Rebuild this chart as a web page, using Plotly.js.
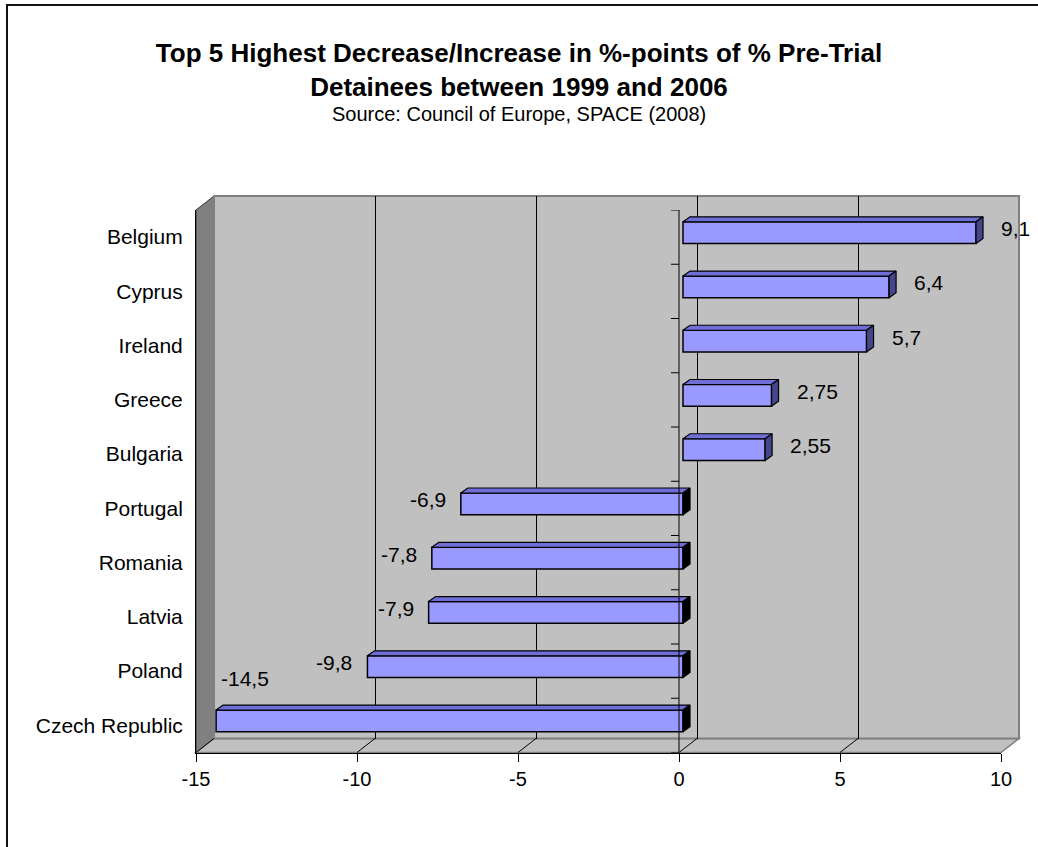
<!DOCTYPE html>
<html><head><meta charset="utf-8">
<script src="https://cdn.plot.ly/plotly-3.0.1.min.js"></script>
<style>html,body{margin:0;padding:0;background:#fff}#chart{width:1038px;height:847px}</style>
</head><body><div id="chart"></div>
<script>
// ---- data ----
const categories = ['Belgium','Cyprus','Ireland','Greece','Bulgaria','Portugal','Romania','Latvia','Poland','Czech Republic'];
const values = [9.1, 6.4, 5.7, 2.75, 2.55, -6.9, -7.8, -7.9, -9.8, -14.5];
const xTickVals = [-15, -10, -5, 0, 5, 10];
const xTickText = ['-15', '-10', '-5', '0', '5', '10'];
const titleLines = ['Top 5 Highest Decrease/Increase in %-points of % Pre-Trial', 'Detainees between 1999 and 2006'];
const subtitle = 'Source: Council of Europe, SPACE (2008)';

// ---- geometry (pixels) ----
const W = 1038, H = 847;
const fx = p => p / W, fy = p => 1 - p / H;
const FRONT = {l: 196, r: 1001, t: 210, b: 752.5};
const DEPTH = {x: 18, y: 14};
const BAR_SHIFT = {x: 4, y: 4.5};
const BAR_DEPTH = {x: 7, y: 5};
const xRange = [xTickVals[0], xTickVals[xTickVals.length - 1]];
const n = categories.length;
const yRange = [-0.5, n - 0.5];
const yPos = categories.map((c, i) => n - 1 - i);
const boundaries = Array.from({length: n + 1}, (_, k) => k - 0.5);
const unitX = (FRONT.r - FRONT.l) / (xRange[1] - xRange[0]);
const unitY = (FRONT.b - FRONT.t) / (yRange[1] - yRange[0]);
const dX = BAR_DEPTH.x / unitX, dY = BAR_DEPTH.y / unitY;
const halfW = 0.2;
const FONT = '"Liberation Sans", Arial, sans-serif';
const fmt = v => String(v).replace('.', ',');

// 3D faces of the bars
const topF = {x: [], y: []}, endPos = {x: [], y: []}, endNeg = {x: [], y: []};
values.forEach((v, i) => {
  const c = yPos[i], a = Math.min(0, v), b = Math.max(0, v);
  topF.x.push(a, b, b + dX, a + dX, a, null);
  topF.y.push(c + halfW, c + halfW, c + halfW + dY, c + halfW + dY, c + halfW, null);
  const e = v >= 0 ? endPos : endNeg;
  e.x.push(b, b, b + dX, b + dX, b, null);
  e.y.push(c - halfW, c + halfW, c + halfW + dY, c - halfW + dY, c - halfW, null);
});

const common = {hoverinfo: 'skip', showlegend: false};
const traces = [
  Object.assign({type: 'scatter', x: [], y: [], xaxis: 'x', yaxis: 'y'}, common),
  Object.assign({type: 'scatter', x: [], y: [], xaxis: 'x2', yaxis: 'y2'}, common),
  {type: 'bar', orientation: 'h', x: values, y: yPos, width: 2 * halfW, xaxis: 'x3', yaxis: 'y3',
   marker: {color: '#9999ff', line: {color: '#000', width: 1.5}}, showlegend: false, hoverinfo: 'x'},
  Object.assign({type: 'scatter', mode: 'lines', x: topF.x, y: topF.y, fill: 'toself', fillcolor: '#6e6ed6',
   line: {color: '#000', width: 1.2}, xaxis: 'x3', yaxis: 'y3'}, common),
  Object.assign({type: 'scatter', mode: 'lines', x: endPos.x, y: endPos.y, fill: 'toself', fillcolor: '#45458c',
   line: {color: '#000', width: 1.2}, xaxis: 'x3', yaxis: 'y3'}, common),
  Object.assign({type: 'scatter', mode: 'lines', x: endNeg.x, y: endNeg.y, fill: 'toself', fillcolor: '#000',
   line: {color: '#000', width: 1.2}, xaxis: 'x3', yaxis: 'y3'}, common)
];

// shapes
const shapes = [];
shapes.push({type: 'rect', xref: 'paper', yref: 'paper', x0: fx(7), x1: fx(1046), y0: fy(855), y1: fy(5),
  line: {color: '#111', width: 2}, fillcolor: 'rgba(0,0,0,0)', layer: 'below'});
// left wall
shapes.push({type: 'path', xref: 'paper', yref: 'paper', layer: 'below',
  path: `M${fx(FRONT.l)},${fy(FRONT.t)} L${fx(FRONT.l + DEPTH.x)},${fy(FRONT.t - DEPTH.y)} L${fx(FRONT.l + DEPTH.x)},${fy(FRONT.b - DEPTH.y)} L${fx(FRONT.l)},${fy(FRONT.b)} Z`,
  fillcolor: '#808080', line: {color: '#333', width: 1}});
// floor
shapes.push({type: 'path', xref: 'paper', yref: 'paper', layer: 'below',
  path: `M${fx(FRONT.l)},${fy(FRONT.b)} L${fx(FRONT.r)},${fy(FRONT.b)} L${fx(FRONT.r + DEPTH.x)},${fy(FRONT.b - DEPTH.y)} L${fx(FRONT.l + DEPTH.x)},${fy(FRONT.b - DEPTH.y)} Z`,
  fillcolor: '#c0c0c0', line: {color: '#808080', width: 1.5}});
// back wall
shapes.push({type: 'rect', xref: 'x2 domain', yref: 'y2 domain', x0: 0, x1: 1, y0: 0, y1: 1, layer: 'below',
  fillcolor: '#c0c0c0', line: {color: '#808080', width: 2}});
// floor grid diagonals
xTickVals.forEach((v, k) => {
  const last = (k === xTickVals.length - 1);
  shapes.push({type: 'line', xref: 'x', xsizemode: 'pixel', xanchor: v, x0: 0, x1: DEPTH.x,
    yref: 'paper', y0: fy(FRONT.b), y1: fy(FRONT.b - DEPTH.y), layer: 'below',
    line: {color: last ? '#808080' : '#000', width: 1}});
});
// front zero (category) axis line
shapes.push({type: 'line', xref: 'x', yref: 'y', x0: 0, x1: 0, y0: yRange[0], y1: yRange[1],
  line: {color: '#000', width: 1}, layer: 'above'});
// category boundary ticks on zero line and left edge
[0, xRange[0]].forEach(anchor => {
  boundaries.forEach(b => {
    shapes.push({type: 'line', xref: 'x', xsizemode: 'pixel', xanchor: anchor, x0: -8, x1: 0,
      yref: 'y', y0: b, y1: b, line: {color: '#000', width: 1}, layer: 'above'});
  });
});

// annotations: data labels
const annotations = values.map((v, i) => {
  const a = {xref: 'x3', yref: 'y3', x: v, y: yPos[i], text: fmt(v), showarrow: false,
    font: {family: FONT, size: 21, color: '#000'}, yshift: 4};
  if (v >= 0) { a.xanchor = 'left'; a.xshift = 23; }
  else if (v - 70 / unitX >= xRange[0]) { a.xanchor = 'right'; a.xshift = -13; }
  else { a.xanchor = 'left'; a.xshift = 3; a.yshift = 42; }
  return a;
});
annotations.push({xref: 'paper', yref: 'paper', x: 0.5, y: fy(114), xanchor: 'center', yanchor: 'middle',
  text: subtitle, showarrow: false, font: {family: FONT, size: 20, color: '#000'}});

const layout = {
  width: W, height: H, margin: {l: 0, r: 0, t: 0, b: 0},
  paper_bgcolor: '#fff', plot_bgcolor: 'rgba(0,0,0,0)',
  font: {family: FONT, size: 21, color: '#000'},
  separators: ', ', showlegend: false, bargap: 0,
  title: {text: titleLines.map(t => '<b>' + t + '</b>').join('<br>'),
    font: {family: FONT, size: 26, color: '#000'},
    x: 0.5, xanchor: 'center', xref: 'paper', y: fy(62), yref: 'container', yanchor: 'top'},
  xaxis: {domain: [fx(FRONT.l), fx(FRONT.r)], range: xRange, anchor: 'y',
    tickmode: 'array', tickvals: xTickVals, ticktext: xTickText,
    ticks: 'outside', ticklen: 8, tickcolor: '#000', tickwidth: 1,
    showline: true, linecolor: '#000', linewidth: 1, showgrid: false, zeroline: false,
    tickfont: {family: FONT, size: 20, color: '#000'}, fixedrange: true},
  yaxis: {domain: [fy(FRONT.b), fy(FRONT.t)], range: yRange, anchor: 'x',
    tickmode: 'array', tickvals: yPos, ticktext: categories,
    ticks: 'outside', ticklen: 8, tickcolor: 'rgba(0,0,0,0)',
    showline: true, linecolor: '#000', linewidth: 1, showgrid: false, zeroline: false,
    tickfont: {family: FONT, size: 21, color: '#000'}, fixedrange: true},
  xaxis2: {domain: [fx(FRONT.l + DEPTH.x), fx(FRONT.r + DEPTH.x)], range: xRange, anchor: 'y2',
    tickmode: 'array', tickvals: xTickVals.filter(v => v > xRange[0] && v < xRange[1]),
    showticklabels: false, ticks: '', showline: false, zeroline: false,
    showgrid: true, gridcolor: '#000', gridwidth: 1, fixedrange: true},
  yaxis2: {domain: [fy(FRONT.b - DEPTH.y), fy(FRONT.t - DEPTH.y)], range: yRange, anchor: 'x2',
    showticklabels: false, ticks: '', showline: false, zeroline: false, showgrid: false, fixedrange: true},
  xaxis3: {domain: [fx(FRONT.l + BAR_SHIFT.x), fx(FRONT.r + BAR_SHIFT.x)], range: xRange, anchor: 'y3',
    visible: false, fixedrange: true},
  yaxis3: {domain: [fy(FRONT.b - BAR_SHIFT.y), fy(FRONT.t - BAR_SHIFT.y)], range: yRange, anchor: 'x3',
    visible: false, fixedrange: true},
  shapes: shapes,
  annotations: annotations
};

Plotly.newPlot('chart', traces, layout, {displayModeBar: false, staticPlot: true});
</script>
</body></html>
